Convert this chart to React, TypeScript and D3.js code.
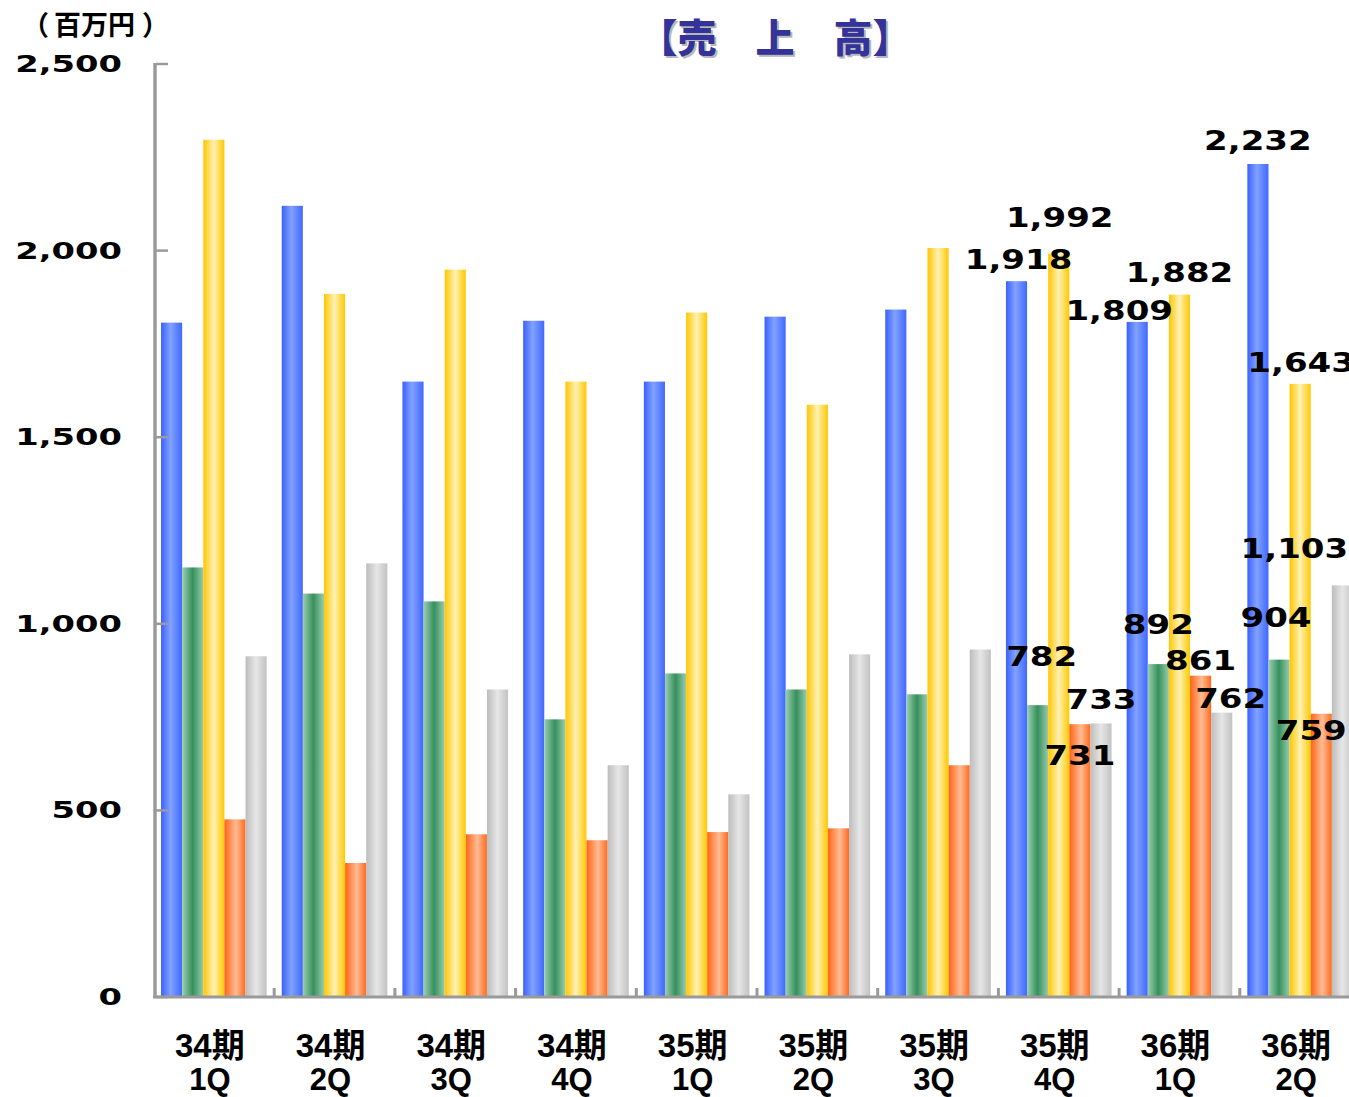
import React from "react";
import * as d3 from "d3";

const categories = ["34期\n1Q", "34期\n2Q", "34期\n3Q", "34期\n4Q", "35期\n1Q", "35期\n2Q", "35期\n3Q", "35期\n4Q", "36期\n1Q", "36期\n2Q"];
const seriesNames = ["s1", "s2", "s3", "s4", "s5"];
const blueValues = [1807, 2120, 1649, 1812, 1649, 1823, 1842, 1918, 1809, 2232];
const greenValues = [1151, 1081, 1060, 744, 867, 824, 811, 782, 892, 904];
const yellowValues = [2297, 1884, 1949, 1649, 1834, 1587, 2007, 1992, 1882, 1643];
const orangeValues = [476, 359, 436, 420, 442, 452, 621, 731, 861, 759];
const grayValues = [913, 1162, 824, 621, 543, 918, 931, 733, 762, 1103];
const yTicks = [0, 500, 1000, 1500, 2000, 2500];
const labeledFrom = 7; // data labels shown for the last three periods

// label offsets [series][category - labeledFrom] = [dx, dy] relative to bar center / top
const labelOffsets: [number, number][][] = [
  [[2, -12], [-18, -2], [0, -14]],
  [[4, -39], [0, -30], [-3, -33]],
  [[1, -27], [0, -13], [1, -12]],
  [[0, 41], [0, -6], [-10, 26]],
  [[0, -14], [9, -5], [-48, -27]],
];

const gradients = [
  { id: "g0", stops: [["0", "#3a60ff"], ["0.45", "#82a2ff"], ["1", "#4068ff"]] },
  { id: "g1", stops: [["0", "#9ccfb2"], ["0.5", "#36905c"], ["1", "#98ccaf"]] },
  { id: "g2", stops: [["0", "#ffc600"], ["0.5", "#fff1b4"], ["1", "#ffc800"]] },
  { id: "g3", stops: [["0", "#ff6418"], ["0.55", "#ffbc94"], ["1", "#ff6a1e"]] },
  { id: "g4", stops: [["0", "#bdbdbd"], ["0.5", "#e6e6e6"], ["1", "#c2c2c2"]] },
];

export default function App() {
  const width = 1349;
  const height = 1097;
  const allValues = [blueValues, greenValues, yellowValues, orangeValues, grayValues];
  const y = d3.scaleLinear().domain([0, 2500]).range([997, 64]);
  const x = d3.scaleBand<string>().domain(categories).range([155, 1359]).paddingInner(0.125).paddingOuter(0.05);
  const xs = d3.scaleBand<string>().domain(seriesNames).range([0, x.bandwidth()]).padding(0);
  const fmt = d3.format(",");
  const numFont = "'DejaVu Sans', sans-serif";
  const cjk = "'Noto Sans CJK JP', sans-serif";
  const xFont = "'Liberation Sans Narrow', 'Liberation Sans', 'Noto Sans CJK JP', sans-serif";
  const axisScale = 1.5;
  const labScale = 1.26;
  const unitParts = ["（", "百", "万", "円", "）"];
  const unitX = [22, 54, 81, 108, 142];

  return (
    <svg width={width} height={height} style={{ position: "absolute", left: 0, top: 0, background: "#fff" }}>
      <defs>
        {gradients.map((g) => (
          <linearGradient key={g.id} id={g.id} x1="0" x2="1" y1="0" y2="0">
            {g.stops.map(([o, c]) => (
              <stop key={o} offset={o} stopColor={c} />
            ))}
          </linearGradient>
        ))}
      </defs>
      <rect x={0} y={0} width={width} height={height} fill="#fff" />
      {/* title */}
      <text x={777} y={54} textAnchor="middle" fontFamily={cjk} fontWeight={900} fontSize={39} fill="#b8b8b8">【売　上　高】</text>
      <text x={775} y={52} textAnchor="middle" fontFamily={cjk} fontWeight={900} fontSize={39} fill="#333399">【売　上　高】</text>
      {/* unit */}
      {unitParts.map((p, i) => (
        <text key={i} x={unitX[i]} y={35} fontFamily={cjk} fontWeight={700} fontSize={27} fill="#000">{p}</text>
      ))}

      {/* bars */}
      {categories.map((c, ci) => (
        <g key={c}>
          {seriesNames.map((s, si) => {
            const v = allValues[si][ci];
            const bx = (x(c) as number) + (xs(s) as number);
            return (
              <rect key={s} x={bx} y={y(v)} width={xs.bandwidth()} height={y(0) - y(v)} fill={`url(#g${si})`} />
            );
          })}
        </g>
      ))}

      {/* axes */}
      <line x1={155} x2={155} y1={63} y2={998} stroke="#9a9a9a" strokeWidth={3.5} />
      <line x1={153} x2={1349} y1={997} y2={997} stroke="#9a9a9a" strokeWidth={3} />
      {yTicks.map((t) => (
        <line key={t} x1={156} x2={168} y1={y(t)} y2={y(t)} stroke="#9a9a9a" strokeWidth={2.5} />
      ))}
      {categories.slice(1).map((c) => {
        const bx = (x(c) as number) - (x.step() - x.bandwidth()) / 2;
        return <line key={c} x1={bx} x2={bx} y1={988} y2={997} stroke="#9a9a9a" strokeWidth={3} />;
      })}

      {/* y tick labels */}
      {yTicks.map((t) => (
        <g key={t} transform={`translate(122, ${y(t) + 8}) scale(${axisScale},1)`}>
          <text x={0} y={0} textAnchor="end" fontFamily={numFont} fontWeight={700} fontSize={22.5} fill="#000">
            {fmt(t)}
          </text>
        </g>
      ))}

      {/* x labels */}
      {categories.map((c) => {
        const cx = (x(c) as number) + x.bandwidth() / 2 - 4;
        const [l1, l2] = c.split("\n");
        return (
          <g key={c}>
            <text x={cx} y={1057} textAnchor="middle" fontFamily={xFont} fontWeight={700} fontSize={33} fill="#000">{l1}</text>
            <text x={cx} y={1090} textAnchor="middle" fontFamily={xFont} fontWeight={700} fontSize={31} fill="#000">{l2}</text>
          </g>
        );
      })}

      {/* data labels */}
      {seriesNames.map((s, si) =>
        categories.slice(labeledFrom).map((c, k) => {
          const v = allValues[si][labeledFrom + k];
          const [dx, dy] = labelOffsets[si][k];
          const cx = (x(c) as number) + (xs(s) as number) + xs.bandwidth() / 2 + dx;
          const by = y(v) + dy;
          return (
            <g key={s + c} transform={`translate(${cx}, ${by}) scale(${labScale},1)`}>
              <text x={0} y={0} textAnchor="middle" fontFamily={numFont} fontWeight={700} fontSize={27} fill="#000">
                {fmt(v)}
              </text>
            </g>
          );
        })
      )}
    </svg>
  );
}
